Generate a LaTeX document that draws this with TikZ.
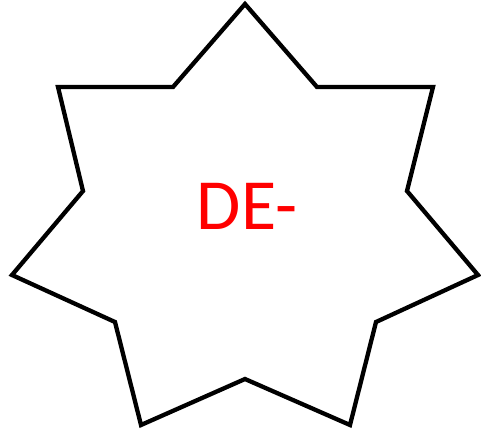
\documentclass[tikz,border=0pt]{standalone}
\usepackage{fontspec}
\setmainfont{Carlito}
\usetikzlibrary{calc}

\begin{document}
\begin{tikzpicture}[x=1pt, y=-1pt, line width=4.3pt, line cap=round, line join=miter, every node/.style={font=\fontsize{72}{80}\selectfont}]
  \useasboundingbox (0,0) rectangle (481,432);
  \draw
    (245,4) -- (317,87) -- (433,87) -- (407,191) -- (478,275) -- (376,322) -- (350,425)
    -- (245,379) -- (141,425) -- (115,322) -- (12,275) -- (83,191) -- (58,87) -- (173,87) -- cycle;
  \node[red, anchor=base, inner sep=0pt] (label) at (247,229) {DE-};
\end{tikzpicture}
\end{document}
